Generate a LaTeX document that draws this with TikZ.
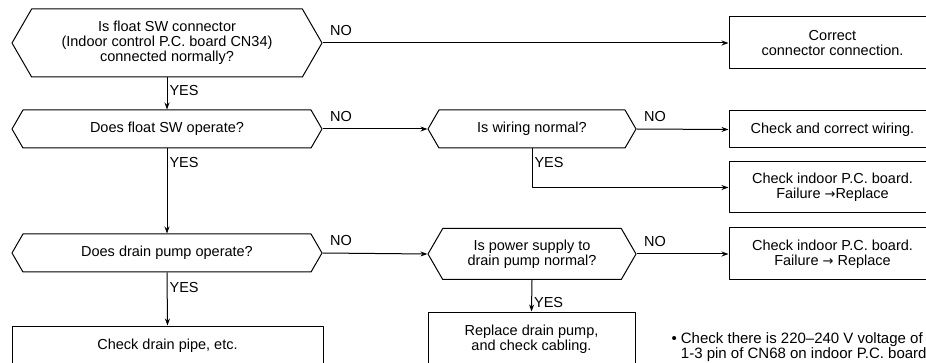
\documentclass[tikz,border=0pt]{standalone}
\usepackage{fontspec}
\setmainfont{Liberation Sans}
\newfontfamily\arrowfont{DejaVu Sans}
\usetikzlibrary{arrows.meta,shapes.symbols}

\begin{document}
\begin{tikzpicture}[x=1pt,y=-1pt,>={Stealth[length=7pt,width=5pt]},line width=1pt,line join=round,
  font=\fontsize{14.5}{15}\selectfont,
  query/.style={draw,signal,signal to=west and east,signal pointer angle=120,minimum width=310,minimum height=38,inner sep=1pt,align=center},
  action/.style={draw,minimum width=207,minimum height=38,inner sep=1pt,align=center},
  notag/.style={inner sep=1pt,anchor=south west,xshift=6pt,yshift=6pt},
  yestag/.style={inner sep=1pt,anchor=west,xshift=1pt}]
  \clip (0,0) rectangle (926,363);

  % questions
  \node[query,minimum height=68] (q1) at (167,43) {Is float SW connector\\(Indoor control P.C. board CN34)\\connected normally?};
  \node[query] (q2) at (167,129) {Does float SW operate?};
  \node[query] (q3) at (167,253) {Does drain pump operate?};
  \node[query,minimum width=208] (q4) at (532,129) {Is wiring normal?};
  \node[query,minimum width=208,minimum height=51] (q5) at (532,254) {Is power supply to\\drain pump normal?};

  % actions
  \node[action,minimum height=52] (b1) at (832.5,43) {Correct\\connector connection.};
  \node[action,minimum height=37] (b2) at (832.5,129.5) {Check and correct wiring.};
  \node[action,minimum height=51] (b3) at (832.5,187.5) {Check indoor P.C. board.\\Failure {\arrowfont\fontsize{13}{15}\selectfont →}Replace};
  \node[action,minimum height=52] (b4) at (832.5,254) {Check indoor P.C. board.\\Failure {\arrowfont\fontsize{13}{15}\selectfont →} Replace};
  \node[action,minimum width=311,minimum height=40] (b5) at (167.5,346) {Check drain pipe, etc.};
  \node[action,minimum height=54] (b6) at (531.5,339) {Replace drain pump,\\and check cabling.};

  \node[anchor=west,align=left,inner sep=0pt,font=\fontsize{15}{11.5}\selectfont] (note) at (671,347)
    {\textbullet\ Check there is 220--240 V voltage of\\\phantom{\textbullet\ }1-3 pin of CN68 on indoor P.C. board};

  % connectors
  \draw[->] (q1.east) -- (b1.west) node[pos=0,notag]{NO};
  \draw[->] (q1.south) -- (q2.north) node[pos=0.4,yestag]{YES};
  \draw[->] (q2.east) -- (q4.west) node[pos=0,notag]{NO};
  \draw[->] (q4.east) -- (b2.west) node[pos=0,notag]{NO};
  \draw[->] (q4.south) |- (b3.west) node[pos=0.175,yestag]{YES};
  \draw[->] (q2.south) -- (q3.north) node[pos=0.16,yestag]{YES};
  \draw[->] (q3.east) -- (q5.west) node[pos=0,notag]{NO};
  \draw[->] (q5.east) -- (b4.west) node[pos=0,notag]{NO};
  \draw[->] (q3.south) -- (b5.north) node[pos=0.28,yestag]{YES};
  \draw[->] (q5.south) -- (b6.north) node[pos=0.7,yestag]{YES};
\end{tikzpicture}
\end{document}
